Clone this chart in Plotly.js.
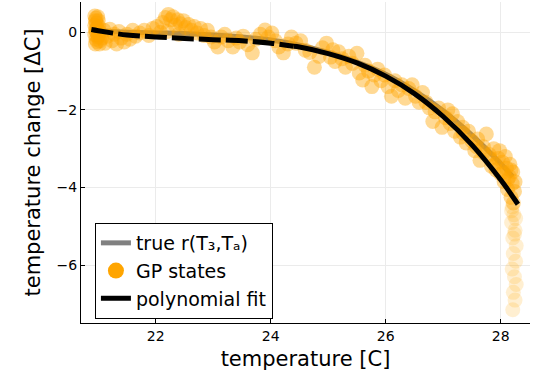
<!DOCTYPE html>
<html>
<head>
<meta charset="utf-8">
<script src="https://cdn.plot.ly/plotly-3.0.1.min.js"></script>
<style>html,body{margin:0;padding:0;background:#fff;}#chart{width:534px;height:376px;}</style>
</head>
<body>
<div id="chart"></div>
<script>
// true relation r(T3,Ta)
const trueT = [20.9, 21.5, 22.2, 23.0, 23.5, 24.0, 24.5, 25.0, 25.5, 26.0, 26.5, 27.0, 27.5, 28.0, 28.21];
const trueDC = [0.05, 0.0, -0.02, -0.07, -0.12, -0.2, -0.33, -0.52, -0.77, -1.08, -1.5, -2.02, -2.65, -3.38, -3.72];

// polynomial fit (dashed part, then solid part)
const fitDashT = [20.88, 21.0, 21.5, 22.0, 22.5, 23.0, 23.5, 24.0, 24.4];
const fitDashDC = [0.07, 0.04, -0.07, -0.12, -0.16, -0.19, -0.22, -0.28, -0.36];
const fitSolidT = [24.4, 24.5, 25.0, 25.5, 26.0, 26.5, 27.0, 27.5, 28.0, 28.3];
const fitSolidDC = [-0.36, -0.38, -0.55, -0.79, -1.13, -1.58, -2.17, -2.9, -3.8, -4.43];

// GP states (main cloud)
const gpT = [
 20.94,20.96,20.95,20.97,20.94,20.98,20.95,20.97,20.94,20.99,20.96,20.98,20.95,21.0,21.01,21.02,21.0,21.03,20.99,21.02,20.97,21.01,
 21.06,21.1,21.12,21.16,21.2,21.24,21.28,21.32,21.36,21.4,21.45,21.5,21.55,21.6,21.65,21.72,21.8,21.88,21.95,
 22.02,22.08,22.12,22.17,22.22,22.26,22.3,22.34,22.38,22.43,22.48,22.52,22.57,22.62,22.67,22.72,22.78,22.84,22.9,22.96,22.2,22.4,
 23.02,23.08,23.14,23.2,23.26,23.34,23.4,23.46,23.52,23.6,23.68,23.74,23.82,23.9,23.96,24.02,24.08,24.14,24.22,24.3,24.36,24.44,24.52,24.6,24.68,24.76,24.84,24.9,24.97,25.04,
 25.08,25.12,25.18,25.24,25.3,25.36,25.42,25.5,25.54,25.6,25.64,25.7,25.76,25.8,25.86,25.92,25.98,26.04,26.1,26.16,26.22,26.28,26.34,26.4,26.46,26.52,26.58,26.64,26.7,26.76,26.82,26.86,26.92,26.98,27.04,27.08,
 27.12,27.16,27.2,27.25,27.3,27.34,27.4,27.44,27.5,27.55,27.6,27.64,27.7,27.75,27.8,27.84,27.88,27.92,27.96,28.0,28.03,28.06,28.1,28.12,28.15,28.18,28.2,28.22,28.24,28.21,28.16,27.98,28.08,28.25,
 27.35,27.58,27.82,28.05,28.18,27.7,27.9,28.12
];
const gpDC = [
 0.42,0.36,0.3,0.24,0.18,0.12,0.06,0.0,-0.06,-0.12,-0.18,-0.24,-0.3,0.3,0.15,0.02,-0.1,-0.22,0.4,-0.3,0.08,-0.05,
 -0.15,0.05,-0.28,-0.1,0.08,-0.22,-0.05,-0.3,0.02,-0.15,-0.25,-0.05,-0.18,0.05,-0.1,-0.02,0.05,-0.08,0.1,
 0.15,0.0,0.25,0.38,0.46,0.32,0.4,0.18,0.32,0.22,0.3,0.12,0.2,0.05,0.15,-0.02,0.1,-0.08,0.05,-0.12,0.02,-0.05,
 -0.25,-0.38,-0.12,-0.05,-0.22,-0.38,-0.15,-0.25,-0.1,-0.32,-0.53,-0.18,-0.05,0.06,-0.12,-0.02,-0.22,-0.38,-0.53,-0.3,-0.12,-0.28,-0.22,-0.46,-0.52,-0.9,-0.62,-0.4,-0.28,-0.64,
 -0.45,-0.75,-0.5,-0.68,-0.9,-0.62,-0.8,-0.54,-1.05,-1.23,-0.85,-1.0,-1.4,-1.1,-0.95,-1.25,-1.1,-1.4,-1.65,-1.25,-1.5,-1.35,-1.7,-1.45,-1.35,-1.65,-1.8,-1.55,-1.8,-1.95,-2.3,-2.05,-1.95,-2.45,-2.2,-2.0,
 -2.35,-2.1,-2.55,-2.3,-2.7,-2.45,-2.85,-2.55,-2.8,-3.05,-2.75,-3.3,-2.95,-2.62,-3.15,-3.45,-3.0,-3.55,-3.25,-3.65,-3.35,-3.85,-3.5,-4.05,-3.72,-4.25,-3.9,-4.4,-4.1,-3.6,-3.4,-3.05,-3.2,-3.85,
 -2.6,-2.95,-3.25,-3.6,-3.55,-3.1,-3.4,-3.8
];

// GP states (sparse tail at the end)
const gpTailT = [28.2,28.23,28.19,28.25,28.21,28.27,28.22,28.26,28.2,28.24,28.27,28.22,28.25,28.21,28.24,28.19,28.26];
const gpTailDC = [-4.5,-4.7,-4.9,-5.1,-5.3,-5.5,-5.7,-5.9,-6.1,-6.3,-6.5,-6.7,-6.9,-7.15,-5.2,-4.6,-4.8];

const xTicks = [22, 24, 26, 28];
const yTicks = [-6, -4, -2, 0];

const ORANGE = '#FFA500';
const FONT = 'DejaVu Sans, sans-serif';

const traces = [
  {x: trueT, y: trueDC, mode: 'lines', name: 'true r(T\u2083,T\u2090)',
   line: {color: '#808080', width: 5, shape: 'spline', smoothing: 1}},
  {x: gpT, y: gpDC, mode: 'markers', showlegend: false, hoverinfo: 'skip',
   marker: {color: ORANGE, size: 15, opacity: 0.42, line: {width: 0}}},
  {x: gpTailT, y: gpTailDC, mode: 'markers', showlegend: false, hoverinfo: 'skip',
   marker: {color: ORANGE, size: 15, opacity: 0.18, line: {width: 0}}},
  {x: [null], y: [null], mode: 'markers', name: 'GP states',
   marker: {color: ORANGE, size: 18, line: {width: 0}}},
  {x: fitDashT, y: fitDashDC, mode: 'lines', showlegend: false,
   line: {color: '#000000', width: 5, dash: '22px,5px', shape: 'spline', smoothing: 1}},
  {x: fitSolidT, y: fitSolidDC, mode: 'lines', name: 'polynomial fit',
   line: {color: '#000000', width: 5, shape: 'spline', smoothing: 1}}
];

const layout = {
  width: 534, height: 376,
  margin: {l: 81, r: 4, t: 2, b: 53},
  paper_bgcolor: '#ffffff', plot_bgcolor: '#ffffff',
  font: {family: FONT, color: '#000000'},
  showlegend: true,
  legend: {x: 0.031, y: 0.3115, xanchor: 'left', yanchor: 'top',
    bgcolor: '#ffffff', bordercolor: '#000000', borderwidth: 1,
    font: {family: FONT, size: 19, color: '#000000'}, tracegroupgap: 0},
  xaxis: {range: [20.70, 28.51], tickvals: xTicks, ticktext: xTicks.map(String),
    showline: true, linecolor: '#000000', linewidth: 1, mirror: false,
    ticks: 'inside', ticklen: 4, tickcolor: '#000000',
    showgrid: true, gridcolor: '#ebebeb', gridwidth: 1, zeroline: false,
    tickfont: {family: FONT, size: 14, color: '#000000'},
    title: {text: 'temperature [C]', font: {family: FONT, size: 21, color: '#000000'}, standoff: 8}},
  yaxis: {range: [-7.49, 0.78], tickvals: yTicks,
    showline: true, linecolor: '#000000', linewidth: 1, mirror: false,
    ticks: 'inside', ticklen: 4, tickcolor: '#000000',
    showgrid: true, gridcolor: '#ebebeb', gridwidth: 1, zeroline: false,
    tickfont: {family: FONT, size: 14, color: '#000000'},
    title: {text: 'temperature change [\u0394C]', font: {family: FONT, size: 21, color: '#000000'}, standoff: 10}}
};

Plotly.newPlot('chart', traces, layout, {staticPlot: true, displayModeBar: false});
</script>
</body>
</html>
